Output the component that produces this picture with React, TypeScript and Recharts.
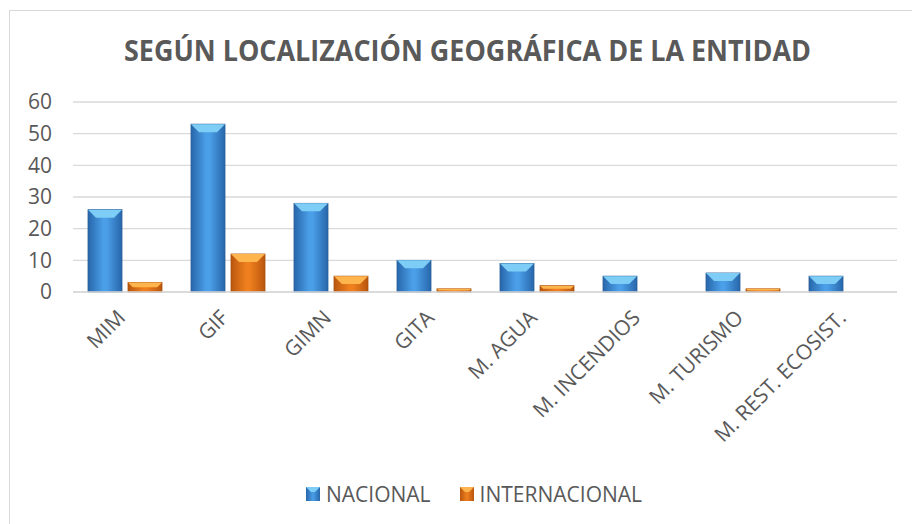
import React from "react";
import { BarChart, Bar, XAxis, YAxis, CartesianGrid, Legend } from "recharts";

const categories = ["MIM", "GIF", "GIMN", "GITA", "M. AGUA", "M. INCENDIOS", "M. TURISMO", "M. REST. ECOSIST."];
const nacional = [26, 53, 28, 10, 9, 5, 6, 5];
const internacional = [3, 12, 5, 1, 2, 0, 1, 0];
const yTicks = [0, 10, 20, 30, 40, 50, 60];
const seriesNames = ["NACIONAL", "INTERNACIONAL"];

const data = categories.map((c, i) => ({ name: c, nacional: nacional[i], internacional: internacional[i] }));

const FONT = "'Open Sans', 'Liberation Sans', sans-serif";
const TEXT = "#595959";

const palette: Record<string, { edge: string; mid: string; bevel: string; stroke: string }> = {
  blue: { edge: "#2866aa", mid: "#4a9fe8", bevel: "#7dcdf6", stroke: "#2a5f98" },
  orange: { edge: "#b9560e", mid: "#f0801f", bevel: "#ffb54e", stroke: "#a9500f" },
};

const BevelBar = (color: string) => (props: any) => {
  const { x, y, width, height } = props;
  if (!height || height <= 0) return null;
  const b = Math.min(8, height / 2, width / 2);
  return (
    <g>
      <rect x={x} y={y} width={width} height={height} fill={`url(#grad-${color})`} stroke={palette[color].stroke} strokeWidth={0.8} />
      <polygon
        points={`${x},${y} ${x + width},${y} ${x + width - b},${y + b} ${x + b},${y + b}`}
        fill={palette[color].bevel}
      />
    </g>
  );
};

const XTick = (props: any) => {
  const { x, y, payload } = props;
  return (
    <text
      x={0}
      y={0}
      transform={`translate(${x + 2},${y + 25}) rotate(-45)`}
      textAnchor="end"
      fontFamily={FONT}
      fontSize={21}
      fill={TEXT}
    >
      {payload.value}
    </text>
  );
};

const LegendContent = () => {
  const items = [
    { name: seriesNames[0], color: "blue" },
    { name: seriesNames[1], color: "orange" },
  ];
  return (
    <div style={{ display: "flex", paddingLeft: 306, alignItems: "center", fontFamily: FONT, fontSize: 21, color: TEXT }}>
      {items.map((it, i) => (
        <div key={it.name} style={{ display: "flex", alignItems: "center", marginRight: i === 0 ? 29 : 0 }}>
          <svg width={14} height={14} style={{ marginRight: 6 }}>
            <rect x={0} y={0} width={14} height={14} fill={`url(#lgrad-${it.color})`} />
            <polygon points="0,0 14,0 9,5 5,5" fill={palette[it.color].bevel} />
            <defs>
              <linearGradient id={`lgrad-${it.color}`} x1="0" y1="0" x2="1" y2="0">
                <stop offset="0%" stopColor={palette[it.color].edge} />
                <stop offset="50%" stopColor={palette[it.color].mid} />
                <stop offset="100%" stopColor={palette[it.color].edge} />
              </linearGradient>
            </defs>
          </svg>
          <span style={{ lineHeight: "22px" }}>{it.name}</span>
        </div>
      ))}
    </div>
  );
};

export default function App() {
  return (
    <div style={{ position: "absolute", left: 0, top: 0, width: 912, height: 524, background: "#fff", overflow: "hidden" }}>
      <div
        style={{
          position: "absolute",
          left: 9,
          top: 10,
          width: 920,
          height: 530,
          border: "1px solid #d9d9d9",
          boxSizing: "border-box",
        }}
      />
      <svg width={912} height={80} style={{ position: "absolute", left: 0, top: 0 }}>
        <text
          x={467.5}
          y={61}
          textAnchor="middle"
          fontFamily={FONT}
          fontWeight={700}
          fontSize={29}
          fill={TEXT}
          textLength={687}
          lengthAdjust="spacingAndGlyphs"
        >
          SEGÚN LOCALIZACIÓN GEOGRÁFICA DE LA ENTIDAD
        </text>
      </svg>
      <div style={{ position: "absolute", left: 0, top: 0 }}>
        <BarChart
          width={912}
          height={524}
          data={data}
          margin={{ top: 102, right: 15, left: 13, bottom: 10 }}
          barSize={34}
          barGap={6}
        >
          <defs>
            {Object.keys(palette).map((k) => (
              <linearGradient key={k} id={`grad-${k}`} x1="0" y1="0" x2="1" y2="0">
                <stop offset="0%" stopColor={palette[k].edge} />
                <stop offset="45%" stopColor={palette[k].mid} />
                <stop offset="55%" stopColor={palette[k].mid} />
                <stop offset="100%" stopColor={palette[k].edge} />
              </linearGradient>
            ))}
          </defs>
          <CartesianGrid vertical={false} stroke="#d9d9d9" strokeWidth={1.4} />
          <XAxis
            dataKey="name"
            height={222}
            interval={0}
            tick={<XTick />}
            tickLine={false}
            tickSize={0}
            axisLine={{ stroke: "#d9d9d9", strokeWidth: 1.4 }}
          />
          <YAxis
            width={60}
            domain={[0, 60]}
            ticks={yTicks}
            axisLine={false}
            tickLine={false}
            tickSize={0}
            tickMargin={21}
            tick={{ fill: TEXT, fontSize: 21, fontFamily: FONT }}
          />
          <Legend
            verticalAlign="middle"
            align="center"
            content={<LegendContent />}
            wrapperStyle={{ left: 0, top: 483, width: 912 }}
          />
          <Bar dataKey="nacional" name={seriesNames[0]} shape={BevelBar("blue")} isAnimationActive={false} />
          <Bar dataKey="internacional" name={seriesNames[1]} shape={BevelBar("orange")} isAnimationActive={false} />
        </BarChart>
      </div>
    </div>
  );
}
